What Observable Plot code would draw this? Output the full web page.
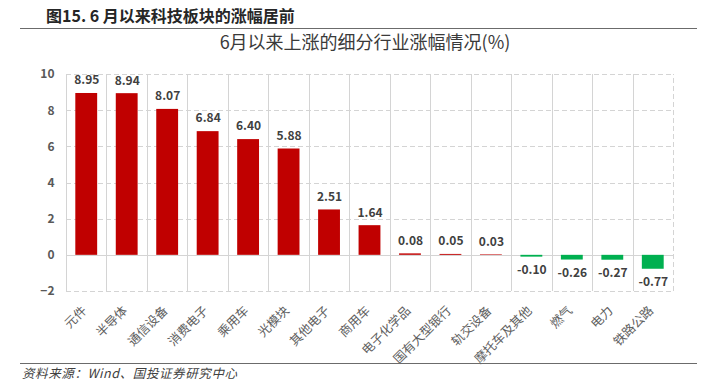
<!DOCTYPE html>
<html>
<head>
<meta charset="utf-8">
<script src="https://cdn.jsdelivr.net/npm/d3@7"></script>
<script src="https://cdn.jsdelivr.net/npm/@observablehq/plot@0.6"></script>
<style>
  html, body { margin: 0; padding: 0; background: #fff; }
  #wrap { position: relative; width: 715px; height: 389px; overflow: hidden; font-family: "Noto Sans CJK SC", "Noto Sans", sans-serif; }
  #wrap svg { position: absolute; left: 0; top: 0; }
  .hdr { position: absolute; left: 46px; top: 4px; font-size: 16px; font-weight: bold; color: #262626; white-space: nowrap; line-height: 22px; }
  .hline { position: absolute; left: 20px; width: 677px; top: 28px; height: 0; border-top: 1.5px solid #6b6b6b; }
  .ttl { position: absolute; left: 0; width: 730px; top: 29px; text-align: center; font-size: 18px; color: #3a3a3a; white-space: nowrap; line-height: 24px; }
  .cline { position: absolute; left: 20px; width: 677px; top: 363px; height: 0; border-top: 1.5px solid #6b6b6b; }
  .cap { position: absolute; left: 22px; top: 364px; font-size: 12.5px; font-style: italic; color: #404040; letter-spacing: 0.6px; white-space: nowrap; line-height: 18px; }
</style>
</head>
<body>
<div id="wrap">
  <div class="hdr">图15. 6 月以来科技板块的涨幅居前</div>
  <div class="hline"></div>
  <div class="ttl">6月以来上涨的细分行业涨幅情况(%)</div>
  <div class="cline"></div>
  <div class="cap">资料来源：Wind、国投证券研究中心</div>
</div>
<script>
const categories = ["元件","半导体","通信设备","消费电子","乘用车","光模块","其他电子","商用车","电子化学品","国有大型银行","轨交设备","摩托车及其他","燃气","电力","铁路公路"];
const values = [8.95, 8.94, 8.07, 6.84, 6.40, 5.88, 2.51, 1.64, 0.08, 0.05, 0.03, -0.10, -0.26, -0.27, -0.77];
const yTicks = [-2, 0, 2, 4, 6, 8, 10];

const data = categories.map((c, i) => ({cat: c, v: values[i]}));
const W = 715, H = 389, ML = 66, MR = 42, MT = 74, MB = 98;
const step = (W - ML - MR) / categories.length;

const chart = Plot.plot({
  width: W, height: H,
  marginLeft: ML, marginRight: MR, marginTop: MT, marginBottom: MB,
  style: {fontFamily: "'Noto Sans CJK SC', 'Noto Sans', sans-serif", background: "transparent"},
  x: {domain: categories, paddingInner: 0.46, paddingOuter: 0.23, round: false, label: null},
  y: {domain: [-2, 10], label: null},
  marks: [
    Plot.ruleX(categories, {x: d => d, y1: -2, y2: 10, dx: -step / 2, stroke: "#d4d4d4", strokeWidth: 1, shapeRendering: "crispEdges"}),
    Plot.ruleX([categories[categories.length - 1]], {x: d => d, y1: -2, y2: 10, dx: step / 2, stroke: "#d4d4d4", strokeWidth: 1, strokeDasharray: "5,3", shapeRendering: "crispEdges"}),
    Plot.ruleY(yTicks.filter(t => t !== 0), {stroke: "#d4d4d4", strokeWidth: 1, strokeDasharray: "5,3", shapeRendering: "crispEdges"}),
    Plot.ruleY([0], {stroke: "#d4d4d4", strokeWidth: 1, shapeRendering: "crispEdges"}),
    Plot.barY(data, {x: "cat", y: "v", fill: d => d.v >= 0 ? "#C00000" : "#00B050"}),
    Plot.text(data.filter(d => d.v >= 0), {x: "cat", y: "v", text: d => d.v.toFixed(2), dy: -13,
      fill: "#404040", fontWeight: "bold", fontSize: 12}),
    Plot.text(data.filter(d => d.v < 0), {x: "cat", y: "v", text: d => d.v.toFixed(2), dy: 13,
      fill: "#404040", fontWeight: "bold", fontSize: 12}),
    Plot.axisY({ticks: yTicks, tickSize: 0, tickPadding: 12, fontSize: 12, fontWeight: "bold", color: "#595959", label: null}),
    Plot.axisX({tickSize: 0, tickPadding: 17, dx: -2, tickRotate: -45, fontSize: 12.5, color: "#606060", label: null})
  ]
});
document.getElementById("wrap").prepend(chart);
</script>
</body>
</html>
